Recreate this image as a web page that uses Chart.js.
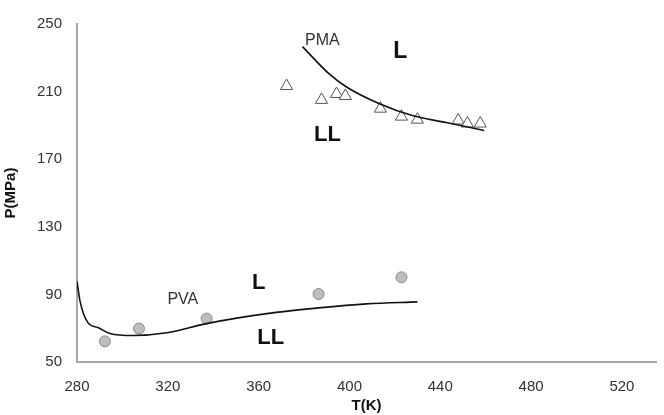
<!DOCTYPE html>
<html>
<head>
<meta charset="utf-8">
<script src="https://cdn.jsdelivr.net/npm/chart.js@4/dist/chart.umd.min.js"></script>
<style>
  html, body { margin: 0; padding: 0; background: #fff; }
  #wrap { width: 664px; height: 415px; }
</style>
</head>
<body>
<div id="wrap"><canvas id="phaseChart"></canvas></div>
<script>
// Datele
const pvaT = [292.3, 307.3, 337.1, 386.4, 422.9];
const pvaP = [62.2, 69.8, 75.7, 90.2, 100.1];

const pmaT = [372.3, 387.7, 394.3, 398.2, 413.6, 422.9, 429.9, 447.9, 451.9, 457.6];
const pmaP = [213.3, 205.1, 208.6, 207.4, 199.9, 195.2, 193.4, 192.9, 191.1, 191.1];

// Curbele modelului
const pvaCurveT = [280, 281.3, 284.8, 289.2, 294.5, 304.6, 319.6, 337, 363.5, 386.4, 407.5, 429.9];
const pvaCurveP = [97.8, 86.2, 73.3, 70.4, 66.9, 65.7, 67.3, 72.7, 78.6, 82, 84.4, 85.6];

const pmaCurveT = [379.3, 391.2, 398.7, 413.2, 427.7, 442.6, 459.3];
const pmaCurveP = [236.6, 220.3, 212.7, 202.8, 195.8, 191.7, 187];

const xTicks = [280, 320, 360, 400, 440, 480, 520];
const yTicks = [50, 90, 130, 170, 210, 250];

// Etichetele din interiorul graficului
const labels = [
    { text: 'PMA', t: 388.1, p: 240, bold: false, size: 16 },
    { text: 'L', t: 422.4, p: 233.7, bold: true, size: 23 },
    { text: 'LL', t: 390.3, p: 184.1, bold: true, size: 22 },
    { text: 'PVA', t: 326.6, p: 86.7, bold: false, size: 16 },
    { text: 'L', t: 360, p: 96.6, bold: true, size: 22 },
    { text: 'LL', t: 365.3, p: 64, bold: true, size: 22 }
];

const toPts = (xs, ys) => xs.map((x, i) => ({ x: x, y: ys[i] }));

const textPlugin = {
    id: 'textLabels',
    afterDatasetsDraw(chart) {
        const ctx = chart.ctx;
        const sx = chart.scales.x, sy = chart.scales.y;
        ctx.save();
        ctx.textAlign = 'center';
        ctx.textBaseline = 'middle';
        labels.forEach(l => {
            ctx.font = (l.bold ? 'bold ' : '') + l.size + 'px "Liberation Sans", Arial, sans-serif';
            ctx.fillStyle = l.bold ? '#111' : '#333';
            ctx.fillText(l.text, sx.getPixelForValue(l.t), sy.getPixelForValue(l.p));
        });
        ctx.restore();
    }
};

const tickFont = { family: '"Liberation Sans", Arial, sans-serif', size: 15 };
const titleFont = { family: '"Liberation Sans", Arial, sans-serif', size: 15, weight: 'bold' };

const ctxPhase = document.getElementById('phaseChart').getContext('2d');
new Chart(ctxPhase, {
    type: 'scatter',
    data: {
        datasets: [
            {
                label: 'PVA model',
                data: toPts(pvaCurveT, pvaCurveP),
                showLine: true,
                borderColor: '#111',
                borderWidth: 1.6,
                pointRadius: 0,
                cubicInterpolationMode: 'monotone'
            },
            {
                label: 'PMA model',
                data: toPts(pmaCurveT, pmaCurveP),
                showLine: true,
                borderColor: '#111',
                borderWidth: 1.6,
                pointRadius: 0,
                cubicInterpolationMode: 'monotone'
            },
            {
                label: 'PVA',
                data: toPts(pvaT, pvaP),
                pointStyle: 'circle',
                pointRadius: 5.5,
                backgroundColor: '#bdbdbd',
                borderColor: '#8a8a8a',
                borderWidth: 1
            },
            {
                label: 'PMA',
                data: toPts(pmaT, pmaP),
                pointStyle: 'triangle',
                pointRadius: 7,
                backgroundColor: '#fff',
                borderColor: '#555',
                borderWidth: 1
            }
        ]
    },
    options: {
        responsive: true,
        maintainAspectRatio: false,
        animation: false,
        layout: { padding: { top: 19, right: 0, left: 0, bottom: 0 } },
        plugins: { legend: { display: false }, tooltip: { enabled: false } },
        scales: {
            x: {
                type: 'linear',
                min: 280,
                max: 535,
                afterBuildTicks: s => { s.ticks = xTicks.map(v => ({ value: v })); },
                afterFit: s => { s.height = 53; },
                grid: { display: true, drawOnChartArea: false, drawTicks: false },
                border: { display: true, color: '#a8a8a8', width: 2 },
                ticks: { color: '#333', font: tickFont, padding: 16, maxRotation: 0 },
                title: { display: true, text: 'T(K)', color: '#111', font: titleFont, padding: { top: 0, bottom: 0 } }
            },
            y: {
                type: 'linear',
                min: 50,
                max: 250,
                afterBuildTicks: s => { s.ticks = yTicks.map(v => ({ value: v })); },
                afterFit: s => { s.width = 77; },
                grid: { display: true, drawOnChartArea: false, drawTicks: false },
                border: { display: true, color: '#a8a8a8', width: 2 },
                ticks: { color: '#333', font: tickFont, padding: 15 },
                title: { display: true, text: 'P(MPa)', color: '#111', font: titleFont, padding: { top: 2, bottom: 0 } }
            }
        }
    },
    plugins: [textPlugin]
});
</script>
</body>
</html>
